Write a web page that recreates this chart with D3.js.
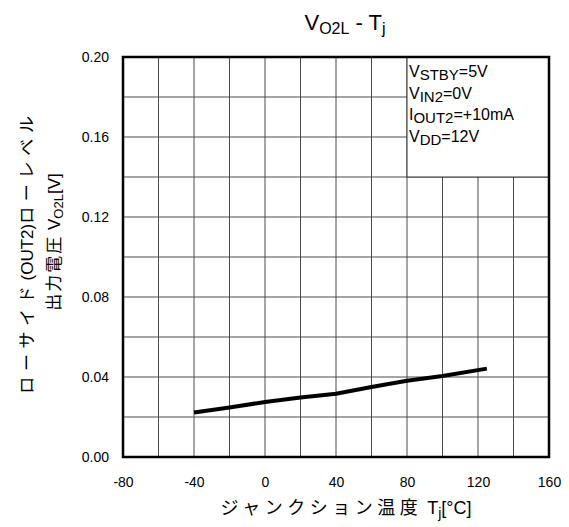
<!DOCTYPE html>
<html>
<head>
<meta charset="utf-8">
<script src="https://cdn.jsdelivr.net/npm/d3@7"></script>
<style>
  html, body { margin: 0; padding: 0; background: #fff; }
  svg { display: block; }
  text { font-family: "Liberation Sans", Arial, "Noto Sans CJK JP", sans-serif; fill: #000; }
</style>
</head>
<body>
<svg id="chart" width="569" height="527"></svg>
<script>
// ---- data ----
const temps = [-40, -20, 0, 20, 40, 60, 80, 100, 125];
const vo2l = [0.0222, 0.0248, 0.0275, 0.0297, 0.0316, 0.0350, 0.0381, 0.0405, 0.0442];
const xTicks = [-80, -40, 0, 40, 80, 120, 160];
const yTicks = [0.00, 0.04, 0.08, 0.12, 0.16, 0.20];
const xGrid = d3.range(-80, 161, 20);
const yGrid = d3.range(0, 0.2001, 0.02);
const legendLines = [
  [["V", false], ["STBY", true], ["=5V", false]],
  [["V", false], ["IN2", true], ["=0V", false]],
  [["I", false], ["OUT2", true], ["=+10mA", false]],
  [["V", false], ["DD", true], ["=12V", false]]
];

const svg = d3.select("#chart");
const x = d3.scaleLinear().domain([-80, 160]).range([123, 549]);
const y = d3.scaleLinear().domain([0, 0.2]).range([457, 57]);

// grid
const g = svg.append("g");
g.selectAll("line.vg").data(xGrid).join("line")
  .attr("x1", d => x(d)).attr("x2", d => x(d))
  .attr("y1", y(0)).attr("y2", y(0.2))
  .attr("stroke", "#4a4a4a").attr("stroke-width", 1);
g.selectAll("line.hg").data(yGrid).join("line")
  .attr("x1", x(-80)).attr("x2", x(160))
  .attr("y1", d => y(d)).attr("y2", d => y(d))
  .attr("stroke", "#4a4a4a").attr("stroke-width", 1);

// legend box
svg.append("rect")
  .attr("x", x(80)).attr("y", y(0.2))
  .attr("width", x(160) - x(80)).attr("height", y(0.14) - y(0.2))
  .attr("fill", "#fff").attr("stroke", "#333").attr("stroke-width", 1);

const lg = svg.append("g");
legendLines.forEach((parts, i) => {
  const t = lg.append("text").attr("x", x(80) + 2).attr("y", 77 + i * 21.5).attr("font-size", 16);
  let sub = false;
  parts.forEach(([s, isSub]) => {
    const ts = t.append("tspan").text(s);
    if (isSub && !sub) { ts.attr("dy", 3).attr("font-size", 15); sub = true; }
    else if (!isSub && sub) { ts.attr("dy", -3); sub = false; }
  });
});

// data line
svg.append("path")
  .datum(temps.map((t, i) => [t, vo2l[i]]))
  .attr("fill", "none").attr("stroke", "#000").attr("stroke-width", 4)
  .attr("stroke-linejoin", "round")
  .attr("d", d3.line().x(d => x(d[0])).y(d => y(d[1])));

// border
svg.append("rect")
  .attr("x", x(-80)).attr("y", y(0.2))
  .attr("width", x(160) - x(-80)).attr("height", y(0) - y(0.2))
  .attr("fill", "none").attr("stroke", "#000").attr("stroke-width", 2.5);

// axes
const ax = svg.append("g").attr("transform", `translate(0,${y(0)})`)
  .call(d3.axisBottom(x).tickValues(xTicks).tickSize(0).tickPadding(20).tickFormat(d => String(d)));
ax.select(".domain").remove();
ax.selectAll("text").attr("font-size", 14).attr("font-family", null);

const ay = svg.append("g").attr("transform", `translate(${x(-80)},0)`)
  .call(d3.axisLeft(y).tickValues(yTicks).tickSize(0).tickPadding(14).tickFormat(d => d.toFixed(2)));
ay.select(".domain").remove();
ay.selectAll("text").attr("font-size", 14).attr("font-family", null);

// title
const title = svg.append("text").attr("x", 345).attr("y", 30)
  .attr("text-anchor", "middle").attr("font-size", 22);
title.append("tspan").text("V");
title.append("tspan").text("O2L").attr("font-size", 16).attr("dy", 4);
title.append("tspan").text(" - T").attr("dy", -4);
title.append("tspan").text("j").attr("font-size", 16).attr("dy", 4);

// x title
const xt = svg.append("text").attr("x", 346).attr("y", 514)
  .attr("text-anchor", "middle").attr("font-size", 18);
xt.append("tspan").text("ジャンクション温度").attr("letter-spacing", 4.5);
xt.append("tspan").text(" T");
xt.append("tspan").text("j").attr("font-size", 14).attr("dy", 4);
xt.append("tspan").text("[°C]").attr("dy", -4);

// y title line 1
const yt1 = svg.append("text")
  .attr("transform", "translate(33,252) rotate(-90)")
  .attr("text-anchor", "middle").attr("font-size", 17);
yt1.append("tspan").text("ローサイド").attr("letter-spacing", 5.7);
yt1.append("tspan").text("(OUT2)");
yt1.append("tspan").text("ローレベル").attr("letter-spacing", 5.7);

// y title line 2
const yt2 = svg.append("text")
  .attr("transform", "translate(60,242) rotate(-90)")
  .attr("text-anchor", "middle").attr("font-size", 17);
yt2.append("tspan").text("出力電圧").attr("letter-spacing", 2);
yt2.append("tspan").text(" V");
yt2.append("tspan").text("O2L").attr("font-size", 13).attr("dy", 3);
yt2.append("tspan").text("[V]").attr("dy", -3);
</script>
</body>
</html>
